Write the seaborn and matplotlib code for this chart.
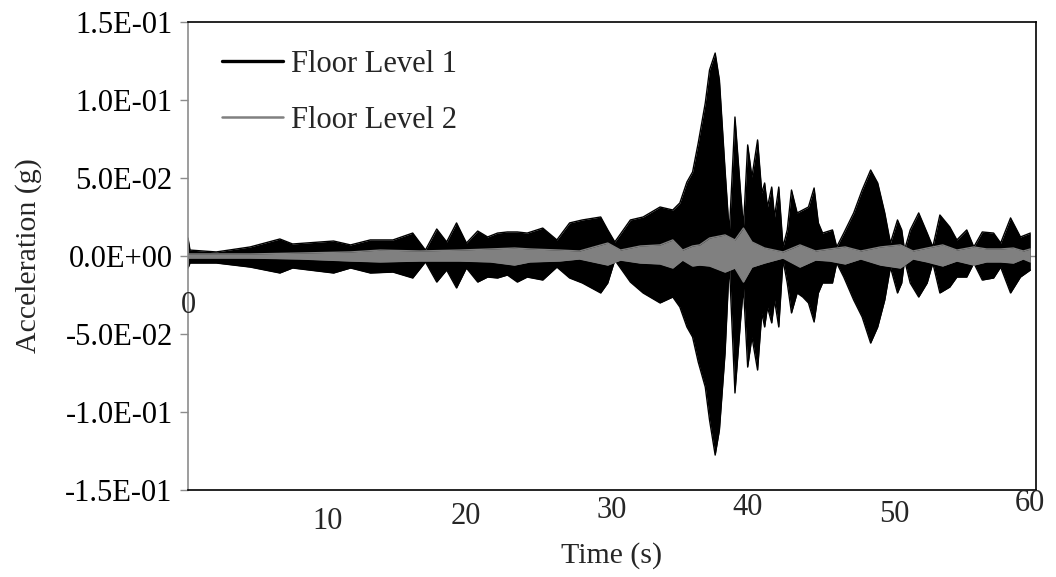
import matplotlib
matplotlib.use("Agg")
import matplotlib.pyplot as plt
import matplotlib.transforms as mtransforms
import seaborn as sns

# ---- data (envelopes of the acceleration records) ----
t1 = [0, 0.14, 2.0, 4.4, 6.5, 7.4, 10.3, 11.5, 12.9, 14.5,
      15.9, 16.8, 17.6, 18.3, 19.0, 19.7, 20.5, 21.2, 21.9, 22.6,
      23.3, 24.0, 25.1, 26.1, 27.0, 27.9, 29.2, 29.7, 30.2, 31.3,
      32.2, 33.4, 34.3, 34.8, 35.3, 35.7, 36.1, 36.6, 36.9, 37.3,
      37.6, 38.0, 38.3, 38.7, 39.1, 39.3, 39.6, 39.9, 40.3, 40.6,
      40.8, 41.0, 41.3, 41.5, 41.8, 42.1, 42.4, 42.7, 43.1, 43.5,
      43.9, 44.3, 44.6, 44.9, 45.6, 45.9, 46.4, 47.1, 47.7, 48.3,
      48.8, 49.3, 49.7, 50.2, 50.5, 50.7, 51.1, 51.7, 52.3, 52.7,
      53.2, 53.9, 54.4, 55.1, 55.6, 56.2, 57.0, 57.5, 58.2, 58.9,
      59.6]
floor1_max = [0.0115, 0.0038, 0.0026, 0.0058, 0.0109, 0.0077, 0.0096, 0.0071, 0.0103, 0.0103,
              0.0147, 0.0038, 0.0173, 0.0090, 0.0212, 0.0083, 0.0160, 0.0122, 0.0147, 0.0154,
              0.0154, 0.0147, 0.0179, 0.0103, 0.0212, 0.0231, 0.0250, 0.0167, 0.0090, 0.0231,
              0.0250, 0.0314, 0.0295, 0.0340, 0.0474, 0.0538, 0.0724, 0.0981, 0.1192, 0.1301,
              0.1128, 0.0551, 0.0147, 0.0891, 0.0404, 0.0186, 0.0712, 0.0506, 0.0744, 0.0404,
              0.0468, 0.0314, 0.0442, 0.0250, 0.0442, 0.0058, 0.0167, 0.0423, 0.0276, 0.0295,
              0.0314, 0.0436, 0.0212, 0.0147, 0.0167, 0.0058, 0.0147, 0.0276, 0.0423, 0.0551,
              0.0468, 0.0276, 0.0083, 0.0231, 0.0167, 0.0038, 0.0167, 0.0276, 0.0147, 0.0058,
              0.0263, 0.0186, 0.0103, 0.0167, 0.0058, 0.0154, 0.0147, 0.0083, 0.0244, 0.0122,
              0.0147]
floor1_min = [-0.0077, -0.0045, -0.0045, -0.0071, -0.0109, -0.0077, -0.0109, -0.0077, -0.0109, -0.0103,
              -0.0141, -0.0038, -0.0167, -0.0090, -0.0205, -0.0077, -0.0167, -0.0135, -0.0141, -0.0122,
              -0.0167, -0.0135, -0.0154, -0.0071, -0.0141, -0.0173, -0.0237, -0.0173, -0.0026, -0.0167,
              -0.0237, -0.0301, -0.0263, -0.0327, -0.0455, -0.0519, -0.0679, -0.0840, -0.1051, -0.1276,
              -0.1115, -0.0622, -0.0045, -0.0878, -0.0410, -0.0199, -0.0712, -0.0519, -0.0731, -0.0365,
              -0.0455, -0.0327, -0.0429, -0.0282, -0.0455, -0.0026, -0.0173, -0.0365, -0.0237, -0.0263,
              -0.0301, -0.0423, -0.0237, -0.0173, -0.0173, -0.0045, -0.0135, -0.0282, -0.0391, -0.0558,
              -0.0455, -0.0282, -0.0071, -0.0237, -0.0173, -0.0026, -0.0173, -0.0263, -0.0173, -0.0045,
              -0.0237, -0.0199, -0.0135, -0.0135, -0.0045, -0.0154, -0.0141, -0.0071, -0.0237, -0.0135,
              -0.0090]

t2 = [0, 4.4, 7.9, 11.5, 13.6, 16.4, 19.2, 21.4, 23.1, 24.2,
      26.3, 27.7, 29.7, 30.6, 32.0, 33.4, 34.3, 35.0, 35.7, 36.2,
      36.9, 38.0, 38.7, 39.3, 39.9, 40.8, 42.1, 43.3, 44.4, 45.4,
      46.5, 47.6, 49.0, 50.4, 51.3, 52.3, 53.4, 54.4, 55.6, 56.5,
      57.5, 58.4, 59.1, 59.6]
floor2_max = [0.0013, 0.0013, 0.0019, 0.0026, 0.0038, 0.0032, 0.0038, 0.0045, 0.0051, 0.0045,
              0.0038, 0.0032, 0.0083, 0.0038, 0.0064, 0.0071, 0.0103, 0.0038, 0.0064, 0.0071,
              0.0115, 0.0135, 0.0103, 0.0179, 0.0090, 0.0051, 0.0026, 0.0071, 0.0032, 0.0045,
              0.0058, 0.0032, 0.0058, 0.0071, 0.0032, 0.0051, 0.0071, 0.0038, 0.0058, 0.0045,
              0.0045, 0.0051, 0.0032, 0.0045]
floor2_min = [-0.0013, -0.0013, -0.0019, -0.0032, -0.0038, -0.0032, -0.0032, -0.0038, -0.0058, -0.0038,
              -0.0032, -0.0019, -0.0058, -0.0026, -0.0045, -0.0051, -0.0077, -0.0026, -0.0064, -0.0058,
              -0.0064, -0.0103, -0.0077, -0.0167, -0.0071, -0.0045, -0.0013, -0.0071, -0.0026, -0.0032,
              -0.0051, -0.0019, -0.0058, -0.0077, -0.0019, -0.0038, -0.0064, -0.0032, -0.0058, -0.0038,
              -0.0038, -0.0045, -0.0019, -0.0038]

series_names = ["Floor Level 1", "Floor Level 2"]
x_ticks = [0, 10, 20, 30, 40, 50, 60]
x_tick_labels = ["0", "10", "20", "30", "40", "50", "60"]
y_ticks = [-0.15, -0.10, -0.05, 0.0, 0.05, 0.10, 0.15]
y_tick_labels = ["-1.5E-01", "-1.0E-01", "-5.0E-02", "0.0E+00", "5.0E-02", "1.0E-01", "1.5E-01"]

# ---- style ----
sns.set_style("white")
plt.rcParams["font.family"] = ["Liberation Serif", "DejaVu Serif"]
FS = 22

fig = plt.figure(figsize=(10.56, 5.77), dpi=100)
ax = fig.add_axes([188 / 1056, 87 / 577, 848 / 1056, 468 / 577])

c1, c2 = "#000000", "#808080"

ax.axhline(0, color="#8c8c8c", lw=1.0, zorder=1)

ax.fill_between(t1, floor1_min, floor1_max, color=c1, lw=0, zorder=2)
sns.lineplot(x=t1, y=floor1_max, color=c1, lw=1.0, label=series_names[0], ax=ax,
             estimator=None, zorder=2)
sns.lineplot(x=t1, y=floor1_min, color=c1, lw=1.0, ax=ax, estimator=None, zorder=2)

ax.fill_between(t2, floor2_min, floor2_max, color=c2, lw=0, zorder=3)
sns.lineplot(x=t2, y=floor2_max, color=c2, lw=1.0, label=series_names[1], ax=ax,
             estimator=None, zorder=3)
sns.lineplot(x=t2, y=floor2_min, color=c2, lw=1.0, ax=ax, estimator=None, zorder=3)

ax.set_xlim(0, 60)
ax.set_ylim(-0.15, 0.15)

# y axis
ax.set_yticks(y_ticks)
ax.set_yticklabels(y_tick_labels, fontsize=FS)
ax.tick_params(axis="y", direction="out", length=6, width=1.0, color="#8c8c8c",
               pad=5, left=True, labelcolor="black")

# x axis: labels placed individually (staggered as in the original)
ax.set_xticks([])
ax.tick_params(axis="x", bottom=False, labelbottom=False)
label_offsets_px = [(0, 302), (-2, 518), (-5, 513), (0, 507), (-6, 504), (0, 511), (-6, 500)]
trans = mtransforms.blended_transform_factory(ax.transData, fig.transFigure)
for xv, lab, (dx, ypx) in zip(x_ticks, x_tick_labels, label_offsets_px):
    off = mtransforms.ScaledTranslation(dx / 100, 0, fig.dpi_scale_trans)
    ax.text(xv, 1 - ypx / 577, lab, transform=trans + off, ha="center",
            va="center_baseline", fontsize=FS, clip_on=False)

ax.set_xlabel("Time (s)", fontsize=FS - 0.5)
ax.xaxis.set_label_coords(0.5, -(556 - 490) / 468)
ax.xaxis.label.set_va("center")
ax.set_ylabel("Acceleration (g)", fontsize=FS - 0.5)
ax.yaxis.set_label_coords(-(188 - 29) / 848, 0.5)
ax.yaxis.label.set_va("center")

# spines
for s in ["top", "right", "bottom"]:
    ax.spines[s].set_color("black")
    ax.spines[s].set_linewidth(1.2)
ax.spines["left"].set_color("#8c8c8c")
ax.spines["left"].set_linewidth(1.2)

# legend
leg = ax.legend(loc="upper left", bbox_to_anchor=((222 - 188) / 848, (490 - 50) / 468),
                frameon=False, fontsize=FS, handlelength=2.0, handletextpad=0.25,
                labelspacing=0.88, borderaxespad=0, borderpad=0)
lines = leg.get_lines()
lines[0].set_linewidth(2.4)
lines[1].set_linewidth(1.8)

fig.savefig("out.png", dpi=100)
